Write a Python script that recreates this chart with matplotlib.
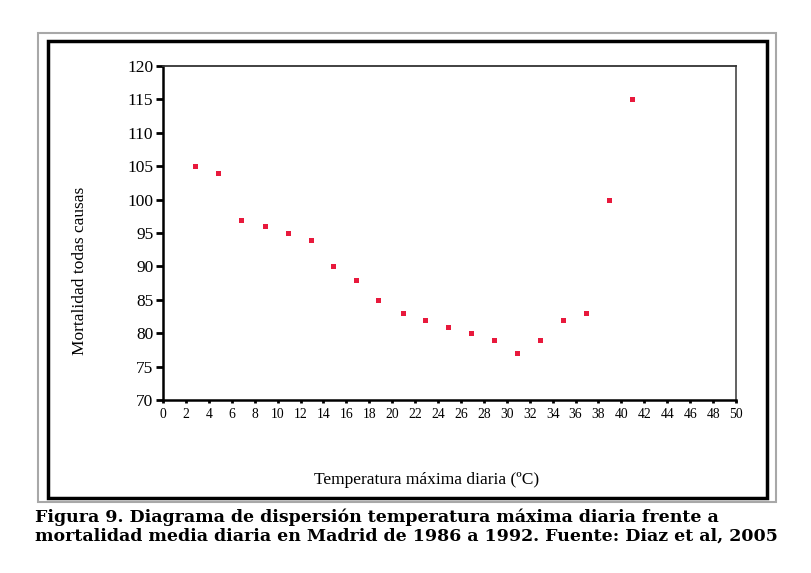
import matplotlib
matplotlib.use('Agg')
import matplotlib.pyplot as plt
from matplotlib.patches import Rectangle

# data
temperatura = [2.8, 4.8, 6.8, 8.9, 10.9, 12.9, 14.8, 16.8, 18.8, 20.9,
               22.9, 24.9, 26.9, 28.9, 30.9, 32.9, 34.9, 36.9, 38.9, 40.9]
mortalidad = [105, 104, 97, 96, 95, 94, 90, 88, 85, 83, 82, 81, 80, 79, 77, 79, 82, 83, 100, 115]
x_ticks = list(range(0, 51, 2))
y_ticks = list(range(70, 121, 5))

caption = ("Figura 9. Diagrama de dispersión temperatura máxima diaria frente a\n"
           "mortalidad media diaria en Madrid de 1986 a 1992. Fuente: Diaz et al, 2005")

serif = 'Liberation Serif'

W, H = 811, 573
fig = plt.figure(figsize=(W / 100, H / 100), dpi=100)
ax = fig.add_axes([163 / W, 1 - 400 / H, (736 - 163) / W, (400 - 66) / H])

ax.plot(temperatura, mortalidad, linestyle='none', marker='s', markersize=3.6,
        color='#e8193c', markeredgewidth=0)

ax.set_xlim(0, 50)
ax.set_ylim(70, 120)
ax.set_xticks(x_ticks, labels=[str(v) for v in x_ticks],
              fontfamily=serif, fontsize=9.8)
ax.set_yticks(y_ticks, labels=[str(v) for v in y_ticks],
              fontfamily=serif, fontsize=12.5)

ax.tick_params(axis='x', length=2.5, width=2, pad=3, color='black')
ax.tick_params(axis='y', length=5, width=2, pad=2, color='black')

ax.spines['left'].set_linewidth(1.8)
ax.spines['bottom'].set_linewidth(1.8)
ax.spines['top'].set_color('#333333')
ax.spines['right'].set_color('#555555')
ax.spines['top'].set_linewidth(1.3)
ax.spines['right'].set_linewidth(1.3)

fig.text(80 / W, 1 - 271 / H, 'Mortalidad todas causas', rotation=90,
         ha='center', va='center', fontfamily=serif, fontsize=12.5)
fig.text(427 / W, 1 - 480 / H, 'Temperatura máxima diaria (ºC)',
         ha='center', va='center', fontfamily=serif, fontsize=12.5)

# outer frames
fig.patches.append(Rectangle((38 / W, 1 - 502 / H), (776 - 38) / W, (502 - 33) / H,
                             transform=fig.transFigure, fill=False,
                             edgecolor='#a8a8a8', linewidth=1.5))
fig.patches.append(Rectangle((48 / W, 1 - 498 / H), (767 - 48) / W, (498 - 41) / H,
                             transform=fig.transFigure, fill=False,
                             edgecolor='black', linewidth=2.5))

fig.text(35 / W, 1 - 509 / H, caption, ha='left', va='top',
         fontfamily='DejaVu Serif', fontweight='bold', fontsize=12.5, linespacing=1.1)

fig.savefig('out.png', dpi=100)
